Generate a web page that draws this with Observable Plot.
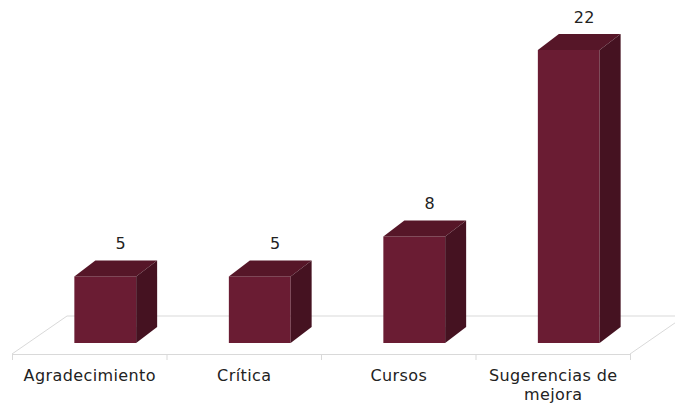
<!DOCTYPE html>
<html><head><meta charset="utf-8">
<script src="https://cdn.jsdelivr.net/npm/d3@7"></script>
<script src="https://cdn.jsdelivr.net/npm/@observablehq/plot@0.6"></script>
<style>body{margin:0;background:#fff}</style>
</head><body><div id="chart"></div>
<script>
const categories = ["Agradecimiento", "Crítica", "Cursos", "Sugerencias de\nmejora"];
const values = [5, 5, 8, 22];
const tickPositions = [0, 1, 2, 3, 4];

const data = categories.map((c, i) => ({cat: c, i, pos: i + 0.5, value: values[i]}));

const FRONT = "#6a1c33", TOP = "#561628", SIDE = "#451221", FLOOR = "#d9d9d9";
const BX = 16, BY = -11;   // bar placement inside floor depth
const DX = 21, DY = -16;   // bar depth
const FX = 55, FY = -38;   // floor depth

function floorMark(index, scales) {
  const x = scales.x, y = scales.y;
  const g = d3.create("svg:g");
  const x0 = x(0), x4 = x(4), y0 = y(0);
  g.append("path")
    .attr("d", `M${x0},${y0}L${x0 + FX},${y0 + FY}L${x4 + FX},${y0 + FY}M${x4},${y0}L${x4 + FX},${y0 + FY}`)
    .attr("fill", "none").attr("stroke", FLOOR).attr("stroke-width", 1);
  return g.node();
}

function barsMark(index, scales) {
  const x = scales.x, y = scales.y;
  const g = d3.create("svg:g");
  for (const d of data) {
    const xl = x(d.pos - 0.2) + BX, xr = x(d.pos + 0.2) + BX;
    const yb = y(0) + BY, yt = y(d.value) + BY;
    g.append("rect").attr("x", xl).attr("y", yt).attr("width", xr - xl).attr("height", yb - yt).attr("fill", FRONT);
    g.append("path").attr("d", `M${xl},${yt}L${xl + DX},${yt + DY}L${xr + DX},${yt + DY}L${xr},${yt}Z`).attr("fill", TOP);
    g.append("path").attr("d", `M${xr},${yt}L${xr + DX},${yt + DY}L${xr + DX},${yb + DY}L${xr},${yb}Z`).attr("fill", SIDE);
  }
  return g.node();
}

const chart = Plot.plot({
  width: 675,
  height: 406,
  marginLeft: 12,
  marginRight: 45,
  marginTop: 0,
  marginBottom: 52,
  style: {fontFamily: "'DejaVu Sans', sans-serif", fontSize: "16px", color: "#222", letterSpacing: "0.4px"},
  x: {type: "linear", domain: [0, 4], range: [12, 630], axis: null},
  y: {domain: [0, 22], range: [354, 61], axis: null},
  marks: [
    floorMark,
    Plot.ruleY([0], {x1: 0, x2: 4, stroke: FLOOR}),
    Plot.axisX({ticks: tickPositions, tickSize: 6, tickFormat: () => "", label: null, stroke: FLOOR, strokeOpacity: 1}),
    barsMark,
    Plot.text(data, {x: "pos", y: "value", text: d => String(d.value), dx: 31, dy: BY + DY - 17, fontSize: 16, fill: "#222"}),
    Plot.text(data, {x: "pos", y: () => 0, text: "cat", lineAnchor: "top", dy: 13, lineHeight: 1.2, fontSize: 16, fill: "#222"})
  ]
});
document.getElementById("chart").append(chart);
</script>
</body></html>
